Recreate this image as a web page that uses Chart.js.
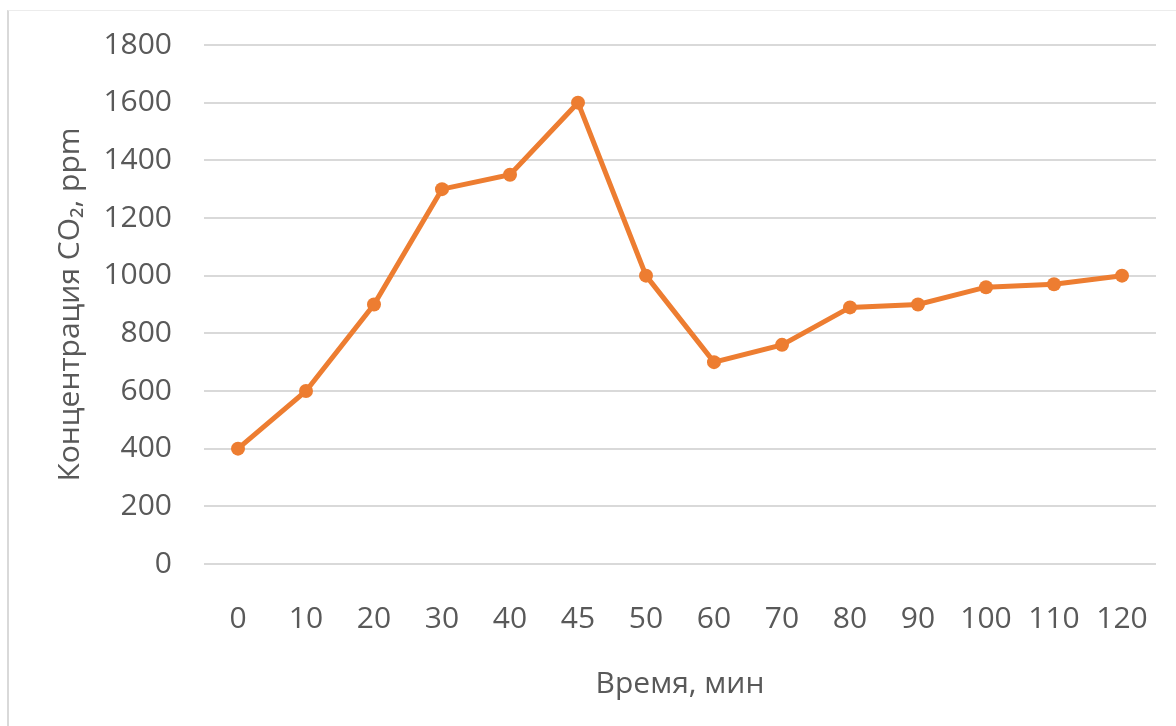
<!DOCTYPE html>
<html>
<head>
<meta charset="utf-8">
<script src="https://cdn.jsdelivr.net/npm/chart.js@4.4.1/dist/chart.umd.min.js"></script>
<style>
    body { margin: 0; background: #fff; overflow: hidden; }
    #wrap { position: relative; width: 1176px; height: 726px; }
    #frame {
        position: absolute; left: 7px; top: 10px; width: 1300px; height: 900px;
        border-left: 2px solid #d9d9d9; border-top: 1px solid #ececec;
    }
    canvas { position: absolute; left: 0; top: 0; }
</style>
</head>
<body>
<div id="wrap">
    <div id="frame"></div>
    <canvas id="co2Chart" width="1176" height="726"></canvas>
</div>
<script>
// time, minutes
const timeLabels = ['0', '10', '20', '30', '40', '45', '50', '60', '70', '80', '90', '100', '110', '120'];
// CO2 concentration, ppm
const co2Values = [400, 600, 900, 1300, 1350, 1600, 1000, 700, 760, 890, 900, 960, 970, 1000];

const yMin = 0;
const yMax = 1800;
const yStep = 200;

const orange = '#ED7D31';
const textGray = '#595959';
const fontFamily = '"Open Sans", "Liberation Sans", sans-serif';

const ctx = document.getElementById('co2Chart').getContext('2d');

// tick gaps are made with invisible tick marks, so ticks.padding stays 0
// (chart.js adds ticks.padding to the edge padding of the plot area)
const co2Chart = new Chart(ctx, {
    type: 'line',
    data: {
        labels: timeLabels,
        datasets: [{
            label: 'CO2',
            data: co2Values,
            borderColor: orange,
            backgroundColor: orange,
            borderWidth: 5,
            pointRadius: 7,
            pointBorderWidth: 0,
            pointBackgroundColor: orange,
            fill: false,
            tension: 0
        }]
    },
    options: {
        responsive: false,
        animation: false,
        layout: {
            padding: { top: 45, right: 20, bottom: 0, left: 0 }
        },
        plugins: {
            legend: { display: false },
            tooltip: { enabled: false }
        },
        scales: {
            x: {
                offset: true,
                grid: {
                    display: true,
                    drawOnChartArea: false,
                    drawTicks: true,
                    tickLength: 37,
                    color: 'transparent',
                    tickColor: 'transparent'
                },
                border: { display: false },
                ticks: {
                    color: textGray,
                    padding: 0,
                    maxRotation: 0,
                    autoSkip: false,
                    font: { family: fontFamily, size: 30 }
                },
                title: {
                    display: true,
                    text: 'Время, мин',
                    color: textGray,
                    padding: { top: 0, bottom: 24 },
                    font: { family: fontFamily, size: 30 }
                },
                afterFit: (scale) => { scale.height = 162; }
            },
            y: {
                min: yMin,
                max: yMax,
                grid: {
                    color: '#d9d9d9',
                    lineWidth: 2,
                    drawTicks: true,
                    tickLength: 32,
                    tickColor: 'transparent'
                },
                border: { display: false },
                ticks: {
                    stepSize: yStep,
                    color: textGray,
                    padding: 0,
                    font: { family: fontFamily, size: 30 },
                    callback: (value) => String(value)
                },
                title: {
                    display: true,
                    text: 'Концентрация CO₂, ppm',
                    color: textGray,
                    padding: { top: 52, bottom: 0 },
                    font: { family: fontFamily, size: 30 }
                },
                afterFit: (scale) => { scale.width = 204; }
            }
        }
    }
});
</script>
</body>
</html>
